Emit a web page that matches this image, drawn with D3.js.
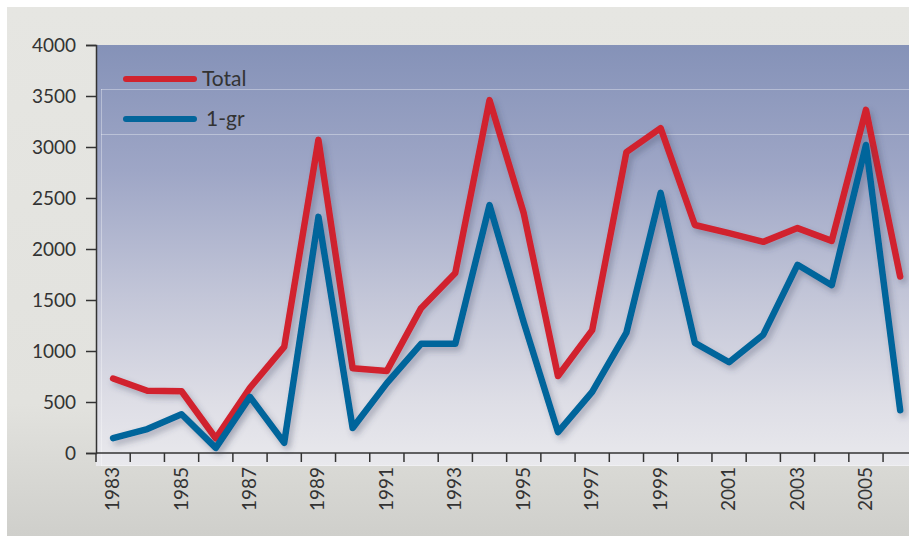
<!DOCTYPE html>
<html>
<head>
<meta charset="utf-8">
<script src="https://cdn.jsdelivr.net/npm/d3@7"></script>
<style>
  body { margin: 0; background: #fff; }
  svg { display: block; }
  text { font-family: Lato, "Open Sans", sans-serif; fill: #333; }
</style>
</head>
<body>
<script>
// chart data
const years = d3.range(1983, 2007);
const tickYears = [1983, 1985, 1987, 1989, 1991, 1993, 1995, 1997, 1999, 2001, 2003, 2005];
const yTicks = [0, 500, 1000, 1500, 2000, 2500, 3000, 3500, 4000];
const total = [730, 610, 605, 145, 640, 1040, 3070, 830, 805, 1420, 1765, 3460,
  2350, 755, 1205, 2950, 3185, 2235, 2155, 2070, 2205, 2080, 3365, 1730];
const grade1 = [145, 235, 380, 50, 550, 100, 2315, 245, 685, 1070, 1070, 2430,
  1280, 205, 600, 1180, 2550, 1080, 890, 1160, 1845, 1645, 3020, 420];
const seriesNames = ['Total', '1-gr'];
const seriesColors = ['#d1232e', '#03659b'];

const W = 909, H = 536;
const margin = {top: 45, left: 96, bottom: 83};
const plotH = H - margin.top - margin.bottom;  // 0 line at y=453

const svg = d3.select("body").append("svg")
  .attr("width", W)
  .attr("height", H);

const defs = svg.append("defs");

// outer panel gradient
const outer = defs.append("linearGradient").attr("id", "outerBg")
  .attr("x1", 0).attr("y1", 0).attr("x2", 0).attr("y2", 1);
outer.append("stop").attr("offset", "0%").attr("stop-color", "#e6e6e2");
outer.append("stop").attr("offset", "75%").attr("stop-color", "#e2e2de");
outer.append("stop").attr("offset", "100%").attr("stop-color", "#cfcfcb");

// plot area gradient
const inner = defs.append("linearGradient").attr("id", "plotBg")
  .attr("x1", 0).attr("y1", 0).attr("x2", 0).attr("y2", 1);
inner.append("stop").attr("offset", "0%").attr("stop-color", "#8592b8");
inner.append("stop").attr("offset", "30%").attr("stop-color", "#9ea6c6");
inner.append("stop").attr("offset", "60%").attr("stop-color", "#c3c6d8");
inner.append("stop").attr("offset", "85%").attr("stop-color", "#dedee6");
inner.append("stop").attr("offset", "100%").attr("stop-color", "#e9e9ed");

const shadow = defs.append("filter").attr("id", "shadow")
  .attr("x", "-10%").attr("y", "-10%").attr("width", "120%").attr("height", "130%");
shadow.append("feDropShadow")
  .attr("dx", 3).attr("dy", 4).attr("stdDeviation", 3)
  .attr("flood-color", "#3a4060").attr("flood-opacity", 0.35);

svg.append("rect")
  .attr("x", 7).attr("y", 7)
  .attr("width", W - 7).attr("height", H - 7)
  .attr("fill", "url(#outerBg)");

svg.append("rect")
  .attr("x", margin.left).attr("y", margin.top)
  .attr("width", W - margin.left).attr("height", 466 - margin.top)
  .attr("fill", "url(#plotBg)");

// faint inset lines seen in the original artwork
const faint = svg.append("g").attr("stroke", "#ffffff").attr("stroke-opacity", 0.35).attr("stroke-width", 1);
faint.append("line").attr("x1", 101).attr("x2", W).attr("y1", 89.5).attr("y2", 89.5);
faint.append("line").attr("x1", 101).attr("x2", W).attr("y1", 134.5).attr("y2", 134.5);
faint.append("line").attr("x1", 101.5).attr("x2", 101.5).attr("y1", 89).attr("y2", 466);
faint.append("line").attr("x1", 101).attr("x2", W).attr("y1", 465.5).attr("y2", 465.5);

// scales
const x = d3.scaleBand()
  .domain(years)
  .range([margin.left, margin.left + years.length * 34.22]);

const y = d3.scaleLinear()
  .domain([0, 4000])
  .range([margin.top + plotH, margin.top]);

// y axis
const yAxis = svg.append("g")
  .attr("transform", "translate(" + margin.left + ",0)")
  .call(d3.axisLeft(y).tickValues(yTicks).tickFormat(d3.format("d")).tickSize(10).tickPadding(10));
yAxis.select(".domain").attr("stroke", "#333").attr("stroke-width", 1.5);
yAxis.selectAll(".tick line").attr("stroke", "#333").attr("stroke-width", 1.5);
yAxis.selectAll("text").attr("font-size", 19).attr("fill", "#333")
  .style("font-family", "Lato, 'Open Sans', sans-serif");

// x axis: ticks on band boundaries
const xg = svg.append("g");
xg.append("line")
  .attr("x1", margin.left).attr("x2", W)
  .attr("y1", y(0)).attr("y2", y(0))
  .attr("stroke", "#333").attr("stroke-width", 1.5);
xg.selectAll("line.tk")
  .data(years)
  .enter().append("line")
  .attr("class", "tk")
  .attr("x1", d => x(d)).attr("x2", d => x(d))
  .attr("y1", y(0)).attr("y2", y(0) + 9)
  .attr("stroke", "#333").attr("stroke-width", 1.5);
xg.selectAll("text")
  .data(tickYears)
  .enter().append("text")
  .attr("transform", d => "translate(" + (x(d) + x.bandwidth() / 2 + 6) + "," + (y(0) + 14) + ") rotate(-90)")
  .attr("text-anchor", "end")
  .attr("font-size", 19)
  .text(d => d);

// lines
const line = d3.line()
  .x((d, i) => x(years[i]) + x.bandwidth() / 2)
  .y(d => y(d))
  .curve(d3.curveLinear);

[total, grade1].forEach((vals, i) => {
  svg.append("path")
    .datum(vals)
    .attr("fill", "none")
    .attr("stroke", seriesColors[i])
    .attr("stroke-width", 6.5)
    .attr("stroke-linejoin", "round")
    .attr("stroke-linecap", "round")
    .attr("filter", "url(#shadow)")
    .attr("d", line);
});

// legend
const legend = svg.append("g");
seriesNames.forEach((name, i) => {
  const ly = 79 + i * 40;
  legend.append("line")
    .attr("x1", 126).attr("x2", 194)
    .attr("y1", ly).attr("y2", ly)
    .attr("stroke", seriesColors[i])
    .attr("stroke-width", 6)
    .attr("stroke-linecap", "round");
  legend.append("text")
    .attr("x", 202 + i * 4).attr("y", ly + 7)
    .attr("font-size", 21)
    .text(name);
});
</script>
</body>
</html>
